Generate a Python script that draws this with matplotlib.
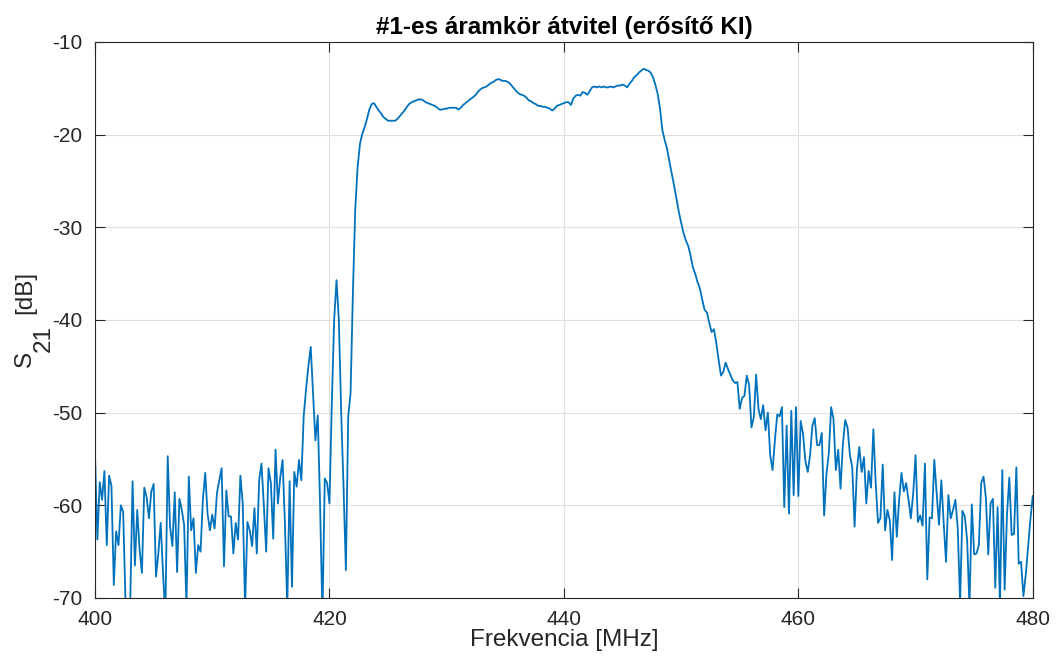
import numpy as np
import matplotlib
matplotlib.use("Agg")
import matplotlib.pyplot as plt

plt.rcParams['font.family'] = ['Liberation Sans', 'DejaVu Sans']
plt.rcParams['axes.unicode_minus'] = False

# S21 sweep, 401 points from 400 to 480 MHz
s21_db = [
    -54.7, -63.7, -57.5, -59.4, -56.3, -64.3, -56.8, -57.9, -68.6, -62.8,
    -64.3, -60.0, -60.7, -70.5, -72.0, -70.8, -57.4, -66.5, -60.5, -64.8,
    -67.3, -58.1, -59.1, -61.4, -58.5, -57.7, -67.7, -65.2, -61.9, -67.3,
    -72.0, -54.7, -62.3, -64.4, -58.6, -67.2, -59.3, -60.5, -62.1, -71.0,
    -56.9, -62.7, -61.4, -67.3, -64.3, -65.0, -59.4, -56.5, -60.9, -62.7,
    -61.0, -62.5, -58.7, -57.3, -56.0, -66.6, -58.4, -61.2, -61.2, -65.2,
    -61.9, -63.7, -56.8, -59.8, -71.0, -61.8, -62.7, -64.4, -60.3, -65.2,
    -57.3, -55.5, -60.0, -65.0, -56.0, -57.6, -63.6, -54.0, -59.8, -57.0,
    -55.1, -62.0, -71.0, -57.4, -68.8, -56.4, -58.0, -55.1, -57.3, -50.4,
    -47.5, -45.0, -42.9, -48.0, -53.0, -50.3, -60.0, -72.0, -57.1, -57.6,
    -59.8, -49.0, -40.0, -35.7, -40.0, -50.0, -58.0, -67.0, -50.4, -47.9,
    -37.0, -28.0, -23.5, -21.0, -19.9, -19.2, -18.3, -17.3, -16.7, -16.6,
    -17.0, -17.4, -17.7, -18.1, -18.3, -18.5, -18.5, -18.5, -18.5, -18.3,
    -18.0, -17.7, -17.4, -17.0, -16.7, -16.5, -16.4, -16.3, -16.2, -16.2,
    -16.3, -16.5, -16.6, -16.7, -16.8, -16.9, -17.1, -17.3, -17.3, -17.2,
    -17.2, -17.1, -17.1, -17.1, -17.1, -17.3, -17.1, -16.8, -16.6, -16.4,
    -16.2, -16.0, -15.8, -15.5, -15.2, -15.0, -14.9, -14.8, -14.6, -14.4,
    -14.3, -14.1, -14.0, -14.1, -14.2, -14.2, -14.3, -14.5, -14.8, -15.1,
    -15.4, -15.6, -15.7, -15.8, -16.0, -16.3, -16.4, -16.6, -16.7, -16.9,
    -16.9, -17.0, -17.0, -17.1, -17.2, -17.4, -17.2, -16.9, -16.8, -16.7,
    -16.6, -16.5, -16.5, -16.8, -16.1, -15.8, -15.7, -15.8, -15.4, -15.5,
    -15.7, -15.3, -14.9, -14.8, -14.9, -14.8, -14.9, -14.8, -14.9, -14.9,
    -14.8, -14.9, -14.8, -14.7, -14.7, -14.6, -14.7, -14.9, -14.5, -14.2,
    -13.8, -13.6, -13.3, -13.1, -12.9, -13.0, -13.1, -13.3, -13.8, -14.6,
    -15.6, -17.2, -19.5, -20.6, -21.5, -22.9, -24.2, -25.5, -26.9, -28.3,
    -29.5, -30.6, -31.4, -32.0, -33.0, -34.3, -35.0, -35.9, -36.6, -37.8,
    -38.9, -39.2, -40.3, -41.3, -41.0, -42.5, -44.3, -46.0, -45.6, -44.6,
    -45.3, -45.9, -46.5, -46.8, -46.7, -49.6, -48.4, -48.2, -46.0, -47.0,
    -51.6, -50.5, -45.9, -49.6, -50.7, -49.2, -51.9, -50.0, -54.6, -56.2,
    -53.0, -50.2, -50.4, -49.4, -60.2, -51.4, -60.9, -49.8, -58.9, -49.4,
    -59.0, -50.9, -52.3, -55.2, -56.4, -54.6, -51.4, -50.6, -53.5, -53.5,
    -52.2, -61.1, -56.6, -54.4, -49.4, -50.7, -56.2, -54.0, -58.2, -53.4,
    -50.8, -51.6, -54.6, -55.9, -62.3, -56.1, -53.7, -56.4, -54.8, -59.8,
    -56.3, -58.1, -51.8, -57.6, -61.9, -61.4, -55.6, -62.7, -60.5, -61.6,
    -65.9, -58.6, -63.4, -59.4, -56.5, -58.5, -57.6, -59.4, -61.4, -58.7,
    -54.6, -61.8, -61.1, -62.2, -55.5, -68.0, -61.3, -61.4, -55.1, -58.7,
    -62.1, -57.3, -61.9, -66.1, -58.9, -61.4, -60.5, -59.4, -62.5, -70.5,
    -60.6, -61.2, -63.7, -71.0, -59.9, -65.3, -65.2, -64.3, -57.6, -56.9,
    -59.2, -65.3, -59.8, -59.3, -68.9, -60.2, -70.8, -56.2, -69.1, -61.0,
    -57.0, -63.2, -63.1, -55.9, -66.3, -66.1, -69.8, -67.5, -64.5, -61.5,
    -59.0,
]
f_start, f_stop = 400, 480
freq_mhz = np.linspace(f_start, f_stop, len(s21_db))

x_ticks = [400, 420, 440, 460, 480]
y_ticks = [-70, -60, -50, -40, -30, -20, -10]

axis_gray = '#262626'

fig = plt.figure(figsize=(10.56, 6.59), dpi=100)
ax = fig.add_axes([0.090, 0.0926, 0.888, 0.8437])

ax.plot(freq_mhz, s21_db, color='#0072BD', linewidth=1.3)

ax.set_xlim(f_start, f_stop)
ax.set_ylim(-70, -10)
ax.set_xticks(x_ticks)
ax.set_yticks(y_ticks)
ax.grid(True, color='#dfdfdf', linewidth=0.8)
ax.set_axisbelow(True)

ax.tick_params(direction='in', length=7.5, width=0.8, colors=axis_gray,
               labelsize=15, top=True, right=True, pad=9)
for side in ax.spines.values():
    side.set_color(axis_gray)
    side.set_linewidth(0.8)

ax.set_title('#1-es áramkör átvitel (erősítő KI)', fontsize=17.5,
             fontweight='bold', pad=6)
ax.set_xlabel('Frekvencia [MHz]', fontsize=17.5, color=axis_gray, labelpad=0)

# y label: S with a full-size, lowered "21" subscript, then the unit
fig.text(0.024, 0.455, 'S', rotation=90, fontsize=17.5, color=axis_gray,
         ha='center', va='center')
fig.text(0.041, 0.487, '21', rotation=90, fontsize=17.5, color=axis_gray,
         ha='center', va='center')
fig.text(0.024, 0.556, '[dB]', rotation=90, fontsize=17.5, color=axis_gray,
         ha='center', va='center')

fig.savefig('out.png', dpi=100)
